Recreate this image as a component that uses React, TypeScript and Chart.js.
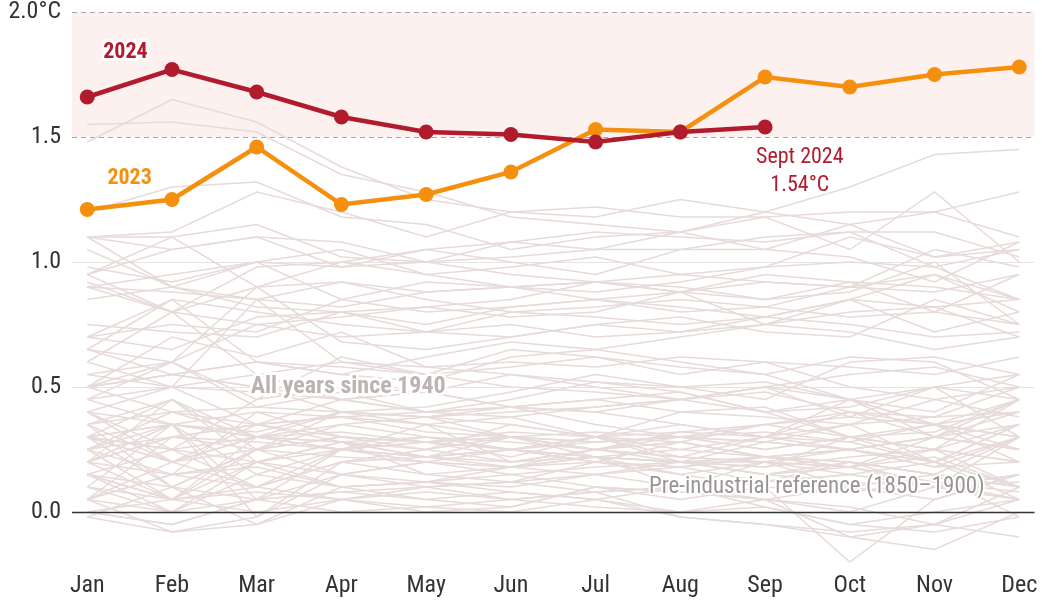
import { useEffect, useRef } from 'react';
import { Chart, registerables } from 'chart.js';

Chart.register(...registerables);

const MONTHS = ['Jan', 'Feb', 'Mar', 'Apr', 'May', 'Jun', 'Jul', 'Aug', 'Sep', 'Oct', 'Nov', 'Dec'];
const Y_TICKS = [0, 0.5, 1, 1.5, 2];
const SERIES_2024 = [1.66, 1.77, 1.68, 1.58, 1.52, 1.51, 1.48, 1.52, 1.54];
const SERIES_2023 = [1.21, 1.25, 1.46, 1.23, 1.27, 1.36, 1.53, 1.52, 1.74, 1.70, 1.75, 1.78];
const BG_FIRST_YEAR = 1940;
const BG_YEARS: number[][] = [
  [0.05, 0.30, 0.25, 0.30, 0.28, 0.32, 0.30, 0.28, 0.35, 0.30, 0.25, 0.45],
  [0.30, 0.35, 0.32, 0.40, 0.38, 0.42, 0.40, 0.35, 0.30, 0.45, 0.35, 0.30],
  [0.40, 0.20, 0.30, 0.35, 0.30, 0.28, 0.25, 0.22, 0.30, 0.25, 0.20, 0.30],
  [0.20, 0.45, 0.30, 0.25, 0.28, 0.25, 0.30, 0.35, 0.30, 0.40, 0.35, 0.25],
  [0.45, 0.35, 0.30, 0.40, 0.38, 0.40, 0.42, 0.45, 0.48, 0.40, 0.30, 0.25],
  [0.25, 0.15, 0.40, 0.30, 0.25, 0.35, 0.30, 0.40, 0.42, 0.30, 0.20, 0.05],
  [0.30, 0.25, 0.20, 0.28, 0.15, 0.12, 0.20, 0.18, 0.22, 0.18, 0.25, 0.10],
  [0.15, 0.05, 0.25, 0.30, 0.28, 0.25, 0.22, 0.20, 0.18, 0.30, 0.25, 0.20],
  [0.35, 0.10, 0.05, 0.25, 0.30, 0.25, 0.20, 0.18, 0.22, 0.25, 0.20, 0.10],
  [0.30, 0.20, 0.25, 0.22, 0.20, 0.15, 0.18, 0.20, 0.15, 0.18, 0.12, 0.08],
  [0.05, 0.00, 0.15, 0.10, 0.12, 0.15, 0.10, 0.08, 0.05, 0.02, -0.05, 0.10],
  [0.05, -0.08, -0.02, 0.15, 0.20, 0.18, 0.22, 0.25, 0.30, 0.28, 0.20, 0.35],
  [0.30, 0.35, 0.15, 0.25, 0.22, 0.20, 0.25, 0.22, 0.20, 0.10, 0.05, 0.15],
  [0.20, 0.30, 0.35, 0.30, 0.28, 0.30, 0.25, 0.28, 0.22, 0.25, 0.18, 0.20],
  [0.05, 0.20, 0.10, 0.05, 0.08, 0.05, 0.02, 0.00, 0.05, 0.10, 0.15, -0.02],
  [0.30, 0.10, -0.05, 0.10, 0.05, 0.08, 0.05, 0.10, 0.05, -0.10, -0.15, 0.00],
  [0.00, -0.05, 0.05, 0.00, 0.02, 0.05, 0.08, -0.02, -0.05, -0.10, -0.05, 0.05],
  [0.05, 0.15, 0.10, 0.20, 0.25, 0.30, 0.28, 0.30, 0.28, 0.25, 0.30, 0.35],
  [0.50, 0.40, 0.30, 0.28, 0.30, 0.25, 0.30, 0.22, 0.20, 0.25, 0.30, 0.25],
  [0.30, 0.20, 0.35, 0.28, 0.22, 0.25, 0.22, 0.20, 0.15, 0.12, 0.10, 0.15],
  [0.20, 0.35, -0.02, 0.20, 0.15, 0.18, 0.15, 0.20, 0.22, 0.18, 0.10, 0.30],
  [0.25, 0.35, 0.30, 0.32, 0.28, 0.30, 0.22, 0.20, 0.20, 0.18, 0.22, 0.10],
  [0.25, 0.30, 0.28, 0.25, 0.20, 0.25, 0.22, 0.20, 0.18, 0.22, 0.25, 0.20],
  [0.10, 0.35, 0.05, 0.15, 0.20, 0.18, 0.25, 0.30, 0.35, 0.38, 0.35, 0.20],
  [0.15, 0.05, 0.00, 0.05, 0.02, 0.00, 0.05, -0.02, -0.05, -0.08, -0.05, -0.10],
  [0.10, 0.05, 0.08, 0.05, 0.10, 0.12, 0.08, 0.10, 0.12, 0.15, 0.10, 0.12],
  [0.05, 0.15, 0.20, 0.15, 0.12, 0.18, 0.22, 0.15, 0.10, 0.08, 0.12, 0.05],
  [0.15, 0.00, 0.20, 0.10, 0.12, 0.10, 0.15, 0.18, 0.12, 0.20, 0.10, 0.15],
  [-0.02, 0.10, 0.25, 0.15, 0.10, 0.12, 0.15, 0.10, 0.12, 0.15, 0.10, 0.05],
  [0.15, 0.10, 0.25, 0.35, 0.38, 0.35, 0.30, 0.32, 0.30, 0.35, 0.38, 0.40],
  [0.35, 0.45, 0.20, 0.28, 0.22, 0.18, 0.20, 0.15, 0.20, 0.15, 0.20, 0.10],
  [0.10, 0.00, 0.05, 0.08, 0.05, 0.02, 0.10, 0.08, 0.05, 0.00, 0.10, 0.05],
  [0.00, 0.05, 0.10, 0.20, 0.22, 0.25, 0.28, 0.30, 0.25, 0.30, 0.35, 0.40],
  [0.50, 0.55, 0.50, 0.45, 0.40, 0.38, 0.30, 0.25, 0.22, 0.20, 0.15, 0.10],
  [0.00, -0.05, 0.05, 0.08, 0.10, 0.05, 0.08, 0.10, 0.02, -0.05, 0.00, 0.05],
  [0.20, 0.15, 0.18, 0.10, 0.12, 0.08, 0.05, 0.00, 0.02, -0.05, -0.08, -0.02],
  [-0.02, -0.08, -0.05, 0.05, 0.00, 0.02, 0.10, 0.05, 0.10, -0.20, 0.05, 0.15],
  [0.20, 0.30, 0.35, 0.38, 0.40, 0.42, 0.35, 0.30, 0.32, 0.28, 0.35, 0.30],
  [0.30, 0.25, 0.30, 0.28, 0.25, 0.20, 0.22, 0.10, 0.20, 0.18, 0.30, 0.25],
  [0.20, 0.05, 0.30, 0.25, 0.22, 0.30, 0.25, 0.32, 0.35, 0.40, 0.38, 0.50],
  [0.40, 0.50, 0.35, 0.45, 0.48, 0.42, 0.45, 0.40, 0.38, 0.35, 0.45, 0.38],
  [0.60, 0.50, 0.55, 0.45, 0.40, 0.42, 0.45, 0.48, 0.40, 0.30, 0.32, 0.45],
  [0.15, 0.25, 0.10, 0.25, 0.28, 0.22, 0.30, 0.20, 0.28, 0.25, 0.30, 0.45],
  [0.55, 0.50, 0.48, 0.45, 0.48, 0.42, 0.40, 0.45, 0.50, 0.38, 0.50, 0.30],
  [0.35, 0.20, 0.30, 0.25, 0.35, 0.20, 0.25, 0.28, 0.22, 0.20, 0.15, 0.10],
  [0.25, 0.05, 0.20, 0.25, 0.22, 0.25, 0.20, 0.28, 0.22, 0.25, 0.18, 0.30],
  [0.35, 0.40, 0.35, 0.38, 0.32, 0.30, 0.28, 0.30, 0.25, 0.30, 0.25, 0.35],
  [0.30, 0.45, 0.25, 0.40, 0.42, 0.48, 0.55, 0.50, 0.52, 0.45, 0.40, 0.55],
  [0.65, 0.55, 0.60, 0.58, 0.55, 0.50, 0.48, 0.45, 0.50, 0.45, 0.30, 0.40],
  [0.25, 0.40, 0.42, 0.40, 0.35, 0.38, 0.42, 0.45, 0.40, 0.45, 0.35, 0.45],
  [0.45, 0.50, 0.85, 0.60, 0.58, 0.55, 0.52, 0.50, 0.45, 0.60, 0.62, 0.55],
  [0.55, 0.60, 0.45, 0.62, 0.55, 0.65, 0.62, 0.58, 0.55, 0.45, 0.50, 0.45],
  [0.50, 0.55, 0.50, 0.40, 0.38, 0.30, 0.25, 0.20, 0.15, 0.20, 0.15, 0.30],
  [0.40, 0.35, 0.40, 0.38, 0.35, 0.30, 0.32, 0.30, 0.28, 0.35, 0.20, 0.35],
  [0.40, 0.25, 0.45, 0.50, 0.48, 0.55, 0.50, 0.45, 0.50, 0.55, 0.58, 0.50],
  [0.65, 0.85, 0.60, 0.55, 0.52, 0.62, 0.65, 0.60, 0.55, 0.62, 0.60, 0.45],
  [0.45, 0.60, 0.42, 0.48, 0.40, 0.45, 0.52, 0.48, 0.40, 0.42, 0.50, 0.55],
  [0.50, 0.55, 0.60, 0.55, 0.62, 0.68, 0.65, 0.70, 0.75, 0.80, 0.82, 0.85],
  [0.95, 1.10, 0.90, 1.00, 0.95, 0.90, 0.92, 0.88, 0.75, 0.72, 0.65, 0.70],
  [0.60, 0.80, 0.55, 0.60, 0.55, 0.58, 0.62, 0.55, 0.60, 0.58, 0.55, 0.62],
  [0.50, 0.70, 0.62, 0.72, 0.58, 0.60, 0.58, 0.62, 0.60, 0.50, 0.45, 0.50],
  [0.65, 0.60, 0.75, 0.70, 0.72, 0.70, 0.75, 0.78, 0.72, 0.70, 0.85, 0.75],
  [0.90, 0.95, 1.00, 0.85, 0.80, 0.82, 0.85, 0.80, 0.82, 0.78, 0.80, 0.75],
  [0.90, 0.80, 0.75, 0.78, 0.82, 0.78, 0.80, 0.88, 0.85, 0.92, 0.80, 0.95],
  [0.85, 0.90, 0.82, 0.80, 0.72, 0.75, 0.70, 0.72, 0.78, 0.85, 0.95, 0.80],
  [0.95, 0.80, 0.90, 0.92, 0.88, 0.90, 0.92, 0.88, 0.95, 0.92, 0.90, 0.85],
  [0.70, 0.85, 0.80, 0.75, 0.72, 0.80, 0.82, 0.85, 0.82, 0.90, 0.88, 0.95],
  [1.10, 0.90, 0.85, 0.92, 0.85, 0.80, 0.78, 0.75, 0.78, 0.75, 0.70, 0.72],
  [0.50, 0.60, 0.90, 0.68, 0.65, 0.70, 0.75, 0.72, 0.75, 0.85, 0.82, 0.70],
  [0.75, 0.72, 0.70, 0.80, 0.82, 0.85, 0.92, 0.95, 0.92, 0.90, 0.95, 0.85],
  [0.95, 1.05, 1.10, 1.08, 1.00, 0.95, 0.92, 0.90, 0.85, 0.88, 1.00, 0.75],
  [0.70, 0.65, 0.78, 0.80, 0.75, 0.82, 0.85, 0.82, 0.78, 0.85, 0.72, 0.80],
  [0.70, 0.75, 0.72, 0.85, 0.92, 0.90, 0.88, 0.92, 0.98, 1.00, 0.98, 0.85],
  [0.90, 0.88, 0.85, 0.82, 0.88, 0.90, 0.85, 0.88, 0.92, 0.90, 1.05, 0.98],
  [0.92, 0.80, 0.98, 1.00, 1.05, 1.00, 0.95, 1.05, 1.05, 1.02, 0.92, 1.08],
  [1.10, 1.05, 1.10, 0.98, 1.05, 1.08, 1.05, 1.12, 1.20, 1.30, 1.43, 1.45],
  [1.48, 1.65, 1.56, 1.38, 1.25, 1.20, 1.18, 1.25, 1.20, 1.15, 1.20, 1.10],
  [1.20, 1.30, 1.32, 1.18, 1.15, 1.05, 1.10, 1.12, 1.05, 1.15, 1.02, 1.08],
  [0.98, 0.92, 1.00, 1.05, 0.95, 0.98, 1.02, 0.95, 0.98, 1.10, 1.02, 1.05],
  [1.10, 1.12, 1.28, 1.20, 1.10, 1.20, 1.22, 1.18, 1.18, 1.20, 1.20, 1.28],
  [1.55, 1.56, 1.52, 1.35, 1.28, 1.18, 1.15, 1.12, 1.18, 1.05, 1.28, 1.00],
  [1.05, 0.90, 1.00, 0.98, 1.00, 1.02, 1.05, 1.05, 1.10, 1.12, 1.12, 1.02],
  [1.10, 1.10, 1.15, 1.02, 1.00, 1.08, 1.12, 1.10, 1.08, 1.12, 0.98, 1.05],
];

const FONT = "'Roboto Condensed', 'Liberation Sans Narrow', Roboto, sans-serif";
const RED = '#b01c2e';
const ORANGE = '#f5900f';

const toPoints = (arr: number[]) => arr.map((y, i) => ({ x: i, y }));

export default function App() {
  const ref = useRef<HTMLCanvasElement>(null);

  useEffect(() => {
    if (!ref.current) return;

    const backgroundPlugin = {
      id: 'bgBand',
      beforeDatasetsDraw(chart: any) {
        const { ctx, chartArea, scales } = chart;
        const y = scales.y;
        const left = chartArea.left;
        const right = chartArea.right;
        ctx.save();
        ctx.fillStyle = '#fdf1ef';
        const yTop = y.getPixelForValue(2);
        const yBot = y.getPixelForValue(1.5);
        ctx.fillRect(left, yTop, right - left, yBot - yTop);
        ctx.strokeStyle = '#e4e4e4';
        ctx.lineWidth = 1;
        [0.5, 1].forEach((v) => {
          const p = Math.round(y.getPixelForValue(v)) + 0.5;
          ctx.beginPath();
          ctx.moveTo(left, p);
          ctx.lineTo(right, p);
          ctx.stroke();
        });
        ctx.strokeStyle = '#a8a8a8';
        ctx.setLineDash([5, 4]);
        [1.5, 2].forEach((v) => {
          const p = Math.round(y.getPixelForValue(v)) + 0.5;
          ctx.beginPath();
          ctx.moveTo(left, p);
          ctx.lineTo(right, p);
          ctx.stroke();
        });
        ctx.restore();
      },
      afterDatasetsDraw(chart: any) {
        const { ctx, chartArea, scales } = chart;
        const x = scales.x;
        const y = scales.y;
        ctx.save();
        const z = Math.round(y.getPixelForValue(0)) + 0.5;
        ctx.strokeStyle = '#333333';
        ctx.lineWidth = 1.5;
        ctx.beginPath();
        ctx.moveTo(chartArea.left, z);
        ctx.lineTo(chartArea.right, z);
        ctx.stroke();

        const label = (text: string, xv: number, yv: number, color: string, weight: string, size: number, halo = 6) => {
          ctx.font = `${weight} ${size}px ${FONT}`;
          ctx.textAlign = 'center';
          ctx.textBaseline = 'middle';
          const px = x.getPixelForValue(xv);
          const py = y.getPixelForValue(yv);
          if (halo > 0) {
            ctx.lineJoin = 'round';
            ctx.lineWidth = halo;
            ctx.strokeStyle = 'rgba(255,255,255,0.95)';
            ctx.strokeText(text, px, py);
          }
          ctx.fillStyle = color;
          ctx.fillText(text, px, py);
        };
        label('2024', 0.45, 1.84, RED, 'bold', 22);
        label('2023', 0.5, 1.336, ORANGE, 'bold', 22);
        label('Sept 2024', 8.41, 1.42, RED, 'normal', 22);
        label('1.54°C', 8.41, 1.305, RED, 'normal', 22);
        label('All years since 1940', 3.08, 0.5, '#bcb3b3', 'bold', 24);
        label('Pre-industrial reference (1850–1900)', 8.61, 0.1, '#9a9595', 'normal', 23, 4);
        ctx.restore();
      },
    };

    const bgSets = BG_YEARS.map((row, k) => ({
      label: String(BG_FIRST_YEAR + k),
      data: toPoints(row),
      borderColor: '#e6dbd9',
      borderWidth: 1.5,
      pointRadius: 0,
      tension: 0,
      order: 2,
    }));

    const chart = new Chart(ref.current, {
      type: 'line',
      data: {
        datasets: [
          ...bgSets,
          {
            label: '2023',
            data: toPoints(SERIES_2023),
            borderColor: ORANGE,
            backgroundColor: ORANGE,
            borderWidth: 4.5,
            pointRadius: 7.5,
            pointBorderWidth: 0,
            order: 1,
          },
          {
            label: '2024',
            data: toPoints(SERIES_2024),
            borderColor: RED,
            backgroundColor: RED,
            borderWidth: 4.5,
            pointRadius: 7.5,
            pointBorderWidth: 0,
            order: 0,
          },
        ] as any,
      },
      options: {
        animation: false,
        responsive: false,
        devicePixelRatio: 1,
        layout: { padding: { top: 12, right: 7, left: 0, bottom: 0 } },
        plugins: { legend: { display: false }, tooltip: { enabled: false } },
        scales: {
          x: {
            type: 'linear',
            min: -0.18,
            max: 11.18,
            grid: { display: false, drawTicks: false },
            border: { display: false },
            afterBuildTicks: (s: any) => {
              s.ticks = MONTHS.map((_, i) => ({ value: i }));
            },
            afterFit: (s: any) => {
              s.height = 39;
              s.paddingLeft = 0;
              s.paddingRight = 0;
            },
            ticks: {
              padding: 5,
              color: '#333333',
              font: { family: FONT, size: 24 },
              maxRotation: 0,
              autoSkip: false,
              callback: (v: any) => MONTHS[v as number],
            },
          },
          y: {
            type: 'linear',
            min: -0.22,
            max: 2,
            grid: { display: false, drawTicks: false },
            border: { display: false },
            afterBuildTicks: (s: any) => {
              s.ticks = Y_TICKS.map((v) => ({ value: v }));
            },
            afterFit: (s: any) => {
              s.width = 72;
              s.paddingTop = 0;
              s.paddingBottom = 0;
            },
            ticks: {
              padding: 11,
              color: '#333333',
              font: { family: FONT, size: 24 },
              callback: (v: any) => (v === 2 ? '2.0°C' : Number(v).toFixed(1)),
            },
          },
        },
      } as any,
      plugins: [backgroundPlugin],
    });

    return () => chart.destroy();
  }, []);

  return (
    <div style={{ position: 'fixed', left: 0, top: 0, width: 1042, height: 606, background: '#ffffff' }}>
      <canvas ref={ref} width={1042} height={606} style={{ display: 'block' }} />
    </div>
  );
}
